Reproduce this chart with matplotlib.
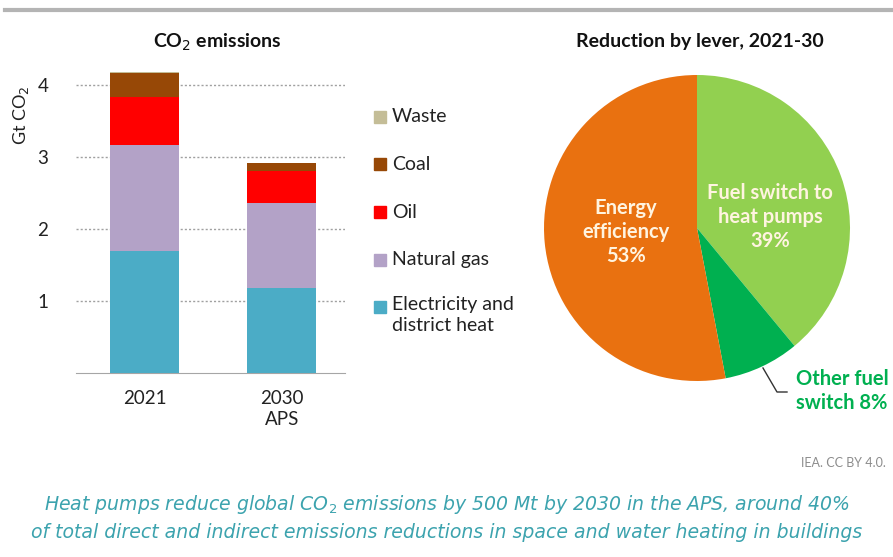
import matplotlib
matplotlib.use("Agg")
import matplotlib.pyplot as plt
from matplotlib.patches import Rectangle
from matplotlib.lines import Line2D

plt.rcParams['font.family'] = ['Lato', 'DejaVu Sans']

# Stacked bar data (Gt CO2)
years = ["2021", "2030\nAPS"]
series = ["Electricity and\ndistrict heat", "Natural gas", "Oil", "Coal", "Waste"]
electricity = [1.69, 1.18]
natural_gas = [1.48, 1.18]
oil = [0.66, 0.44]
coal = [0.34, 0.11]
waste = [0.01, 0.01]
bar_colors = ["#4BACC6", "#B3A2C7", "#FF0000", "#974806", "#C4BD97"]
yticks = [1, 2, 3, 4]

# Pie data (share of reduction, %)
levers = ["Fuel switch to\nheat pumps", "Other fuel\nswitch", "Energy\nefficiency"]
shares = [39, 8, 53]
pie_colors = ["#92D050", "#00B050", "#E97110"]

W, H = 893, 557
fig = plt.figure(figsize=(W / 100, H / 100), dpi=100)


def px_axes(x0, y_top, x1, y_bot):
    return fig.add_axes([x0 / W, 1 - y_bot / H, (x1 - x0) / W, (y_bot - y_top) / H])


def fy(py):
    return 1 - py / H


# Top rule
fig.add_artist(Line2D([5 / W, 1], [fy(10), fy(10)], color="#B4B4B4", lw=3))

# ---- Bar chart ----
ax = px_axes(76, 70.6, 345, 373)
stack = [electricity, natural_gas, oil, coal, waste]
x = list(range(len(years)))
bottom = [0.0] * len(years)
for vals, col, name in zip(stack, bar_colors, series):
    ax.bar(x, vals, width=0.504, bottom=bottom, color=col, label=name, zorder=3)
    bottom = [b + v for b, v in zip(bottom, vals)]
ax.set_xlim(-0.5, 1.46)
ax.set_ylim(0, 4.2)
ax.set_yticks(yticks)
ax.set_yticklabels([str(t) for t in yticks], fontsize=13.5, color="#222222")
ax.set_xticks(x)
ax.set_xticklabels(years, fontsize=13.5, color="#222222", linespacing=1.3)
ax.tick_params(axis="y", length=0, pad=20)
ax.tick_params(axis="x", length=0, pad=12)
ax.grid(axis="y", linestyle=(0, (1.5, 1.5)), color="#A0A0A0", lw=1, zorder=0)
for s in ["top", "right", "left"]:
    ax.spines[s].set_visible(False)
ax.spines["bottom"].set_color("#A6A6A6")
ax.set_ylabel("Gt CO$_2$", fontsize=13, color="#222222")
ax.yaxis.set_label_coords((31 - 76) / 269, (373 - 115) / 302.4)

fig.text(217 / W, fy(42), "CO$_2$ emissions", ha="center", va="center",
         fontsize=14, fontweight="bold", color="#111111")

# Legend (top entry is the last stacked series)
leg_y = [117, 164, 212, 260, 307]
for name, col, yy in zip(series[::-1], bar_colors[::-1], leg_y):
    fig.add_artist(Rectangle((374 / W, fy(yy + 6)), 12 / W, 12 / H,
                             color=col, transform=fig.transFigure))
    if "\n" in name:
        fig.text(392 / W, fy(yy - 11), name, ha="left", va="top",
                 fontsize=14, color="#222222", linespacing=1.3)
    else:
        fig.text(392 / W, fy(yy), name, ha="left", va="center",
                 fontsize=14, color="#222222")

# ---- Pie chart ----
cx, cy, r = 697, 228, 153
pax = px_axes(cx - r, cy - r, cx + r, cy + r)
pax.pie(shares, colors=pie_colors, startangle=90, counterclock=False, radius=1)
pax.set_xlim(-1, 1)
pax.set_ylim(-1, 1)
pax.set_aspect("equal")


def to_data(px, py):
    return (px - cx) / r, (cy - py) / r


lab_col = "#FFF4E0"
tx, ty = to_data(770, 217)
pax.text(tx, ty, f"{levers[0]}\n{shares[0]}%", ha="center", va="center",
         fontsize=14.5, fontweight="bold", color=lab_col, linespacing=1.25)
tx, ty = to_data(626, 232)
pax.text(tx, ty, f"{levers[2]}\n{shares[2]}%", ha="center", va="center",
         fontsize=14.5, fontweight="bold", color=lab_col, linespacing=1.25)
first, second = levers[1].split("\n")
tx, ty = to_data(842, 391)
pax.text(tx, ty, f"{first}\n{second} {shares[1]}%",
         ha="center", va="center", fontsize=14.5, fontweight="bold", color="#00B050",
         linespacing=1.25, clip_on=False)
p1, p2, p3 = to_data(763, 368), to_data(777, 392), to_data(787, 392)
pax.plot([p1[0], p2[0], p3[0]], [p1[1], p2[1], p3[1]], color="#333333", lw=1,
         clip_on=False)

fig.text(700 / W, fy(42), "Reduction by lever, 2021-30", ha="center", va="center",
         fontsize=14, fontweight="bold", color="#111111")

# Footer
fig.text(886 / W, fy(463), "IEA. CC BY 4.0.", ha="right", va="center",
         fontsize=9, color="#8C8C8C")
cap_kw = dict(ha="center", va="center", fontsize=13.6, style="italic",
              color="#3CA3AE", family=["DejaVu Sans"])
fig.text(447 / W, fy(505),
         "Heat pumps reduce global CO$_2$ emissions by 500 Mt by 2030 in the APS, around 40%",
         **cap_kw)
fig.text(447 / W, fy(532),
         "of total direct and indirect emissions reductions in space and water heating in buildings",
         **cap_kw)

fig.savefig("out.png", dpi=100)
